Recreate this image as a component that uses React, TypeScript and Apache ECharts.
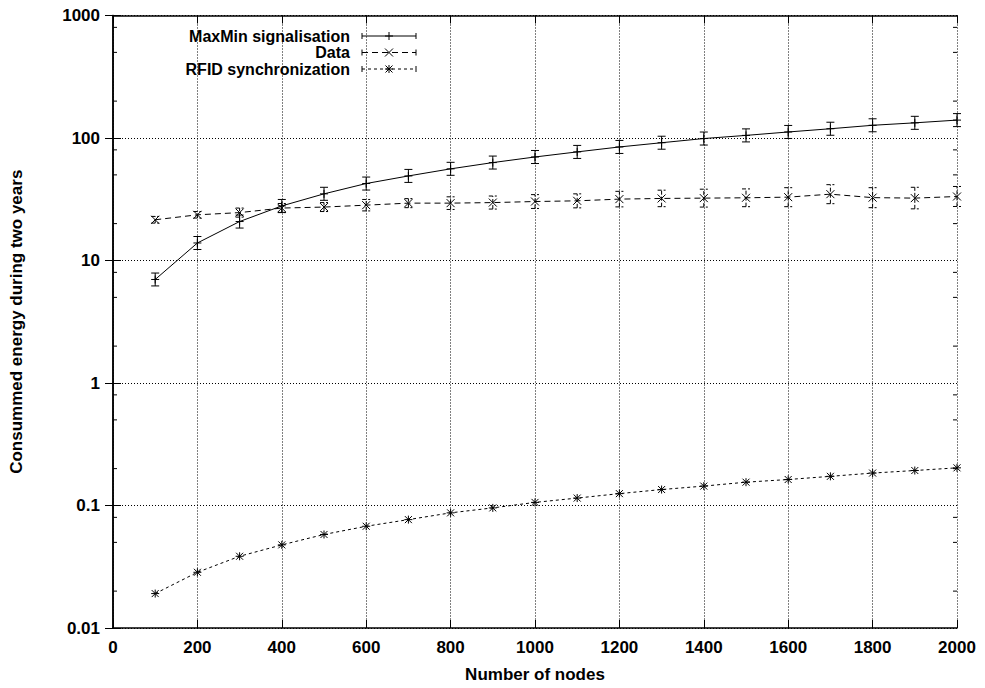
import React, { useEffect, useRef } from "react";
import * as echarts from "echarts";

const nodes = [100, 200, 300, 400, 500, 600, 700, 800, 900, 1000, 1100, 1200, 1300, 1400, 1500, 1600, 1700, 1800, 1900, 2000];

const maxMinEnergy = [7.0, 13.9, 20.8, 27.9, 35.0, 42.5, 49.0, 56.0, 63.0, 70.0, 77.0, 84.5, 91.5, 99.0, 105, 112, 119, 127, 133, 140];
const maxMinLow = [6.2, 12.3, 18.4, 24.7, 31.0, 37.6, 43.4, 49.6, 55.8, 61.9, 68.1, 74.8, 81.0, 87.6, 92.9, 99.1, 105.3, 112.4, 117.7, 123.9];
const maxMinHigh = [7.9, 15.7, 23.5, 31.5, 39.6, 48.0, 55.4, 63.3, 71.2, 79.1, 87.0, 95.5, 103.4, 111.9, 118.7, 126.6, 134.5, 143.5, 150.3, 158.2];

const dataEnergy = [21.5, 23.6, 24.6, 26.8, 27.3, 28.3, 29.4, 29.4, 29.7, 30.3, 30.7, 31.7, 32.1, 32.3, 32.5, 32.9, 34.8, 32.6, 32.3, 33.3];
const dataLow = [20.2, 22.2, 22.6, 24.6, 25.1, 25.4, 27.0, 26.1, 26.3, 26.6, 26.9, 27.4, 27.5, 27.3, 27.5, 27.5, 29.1, 27.0, 26.4, 27.6];
const dataHigh = [22.9, 25.1, 26.8, 29.2, 29.7, 31.5, 32.0, 33.1, 33.6, 34.5, 35.0, 36.7, 37.5, 38.2, 38.4, 39.3, 41.6, 39.3, 39.6, 40.2];

const rfidEnergy = [0.0191, 0.0285, 0.0385, 0.0477, 0.058, 0.0677, 0.0767, 0.0871, 0.0956, 0.106, 0.115, 0.125, 0.135, 0.144, 0.155, 0.163, 0.173, 0.184, 0.193, 0.203];

const seriesNames = ["MaxMin signalisation", "Data", "RFID synchronization"];
const yTickLabels = ["0.01", "0.1", "1", "10", "100", "1000"];
const yMinorTicks = [0.02, 0.05, 0.08, 0.2, 0.5, 0.8, 2, 5, 8, 20, 50, 80, 200, 500, 800];

const FONT = "'Liberation Sans', Arial, Helvetica, sans-serif";
const FS = 17;
const LEGEND_FS = 16;

type Marker = "plus" | "cross" | "star";

function markerShapes(cx: number, cy: number, m: Marker) {
  const r = 4;
  const d = 3.5;
  const st = { stroke: "#000", lineWidth: 1 };
  const out: any[] = [];
  if (m === "plus" || m === "star") {
    out.push({ type: "line", shape: { x1: cx - r, y1: cy, x2: cx + r, y2: cy }, style: st });
    out.push({ type: "line", shape: { x1: cx, y1: cy - r, x2: cx, y2: cy + r }, style: st });
  }
  if (m === "cross" || m === "star") {
    const q = m === "cross" ? r : d;
    out.push({ type: "line", shape: { x1: cx - q, y1: cy - q, x2: cx + q, y2: cy + q }, style: st });
    out.push({ type: "line", shape: { x1: cx - q, y1: cy + q, x2: cx + q, y2: cy - q }, style: st });
  }
  return out;
}

function makeRender(m: Marker, dash: number[] | null, withErr: boolean) {
  return (params: any, api: any) => {
    const x = api.value(0);
    const v = api.value(1);
    const c = api.coord([x, v]);
    const children: any[] = [];
    if (withErr) {
      const pl = api.coord([x, api.value(2)]);
      const ph = api.coord([x, api.value(3)]);
      const st: any = { stroke: "#000", lineWidth: 1 };
      if (dash) st.lineDash = dash;
      children.push({ type: "line", shape: { x1: c[0], y1: pl[1], x2: c[0], y2: ph[1] }, style: st });
      children.push({ type: "line", shape: { x1: c[0] - 4, y1: pl[1], x2: c[0] + 4, y2: pl[1] }, style: st });
      children.push({ type: "line", shape: { x1: c[0] - 4, y1: ph[1], x2: c[0] + 4, y2: ph[1] }, style: st });
    }
    children.push(...markerShapes(c[0], c[1], m));
    return { type: "group", children };
  };
}

function legendRow(y: number, name: string, m: Marker, dash: number[] | null) {
  const st: any = { stroke: "#000", lineWidth: 1 };
  if (dash) st.lineDash = dash;
  const x1 = 362;
  const x2 = 416;
  return [
    {
      type: "text",
      x: 350,
      y: y,
      style: {
        text: name,
        fill: "#000",
        font: `bold ${LEGEND_FS}px ${FONT}`,
        lineHeight: 16,
        textAlign: "right",
        textVerticalAlign: "middle",
      },
    },
    { type: "line", shape: { x1, y1: y, x2, y2: y }, style: st },
    { type: "line", shape: { x1, y1: y - 3, x2: x1, y2: y + 3 }, style: { stroke: "#000", lineWidth: 1 } },
    { type: "line", shape: { x1: x2, y1: y - 3, x2: x2, y2: y + 3 }, style: { stroke: "#000", lineWidth: 1 } },
    ...markerShapes((x1 + x2) / 2, y, m),
  ];
}

export default function App() {
  const ref = useRef<HTMLDivElement>(null);
  useEffect(() => {
    if (!ref.current) return;
    const chart = echarts.init(ref.current, null, { renderer: "svg" });
    const dash1 = [6, 4];
    const dash2 = [3, 3];
    const labelStyle = { color: "#000", fontWeight: "bold" as const, fontSize: FS, fontFamily: FONT };
    const axisLine = { show: true, lineStyle: { color: "#000", width: 1.5 } };
    const splitLine = { show: true, lineStyle: { color: "#000", width: 1, type: [1, 2] as any } };
    const option: any = {
      animation: false,
      backgroundColor: "#fff",
      grid: { left: 108, right: 28, top: 15.5, bottom: 60, containLabel: false },
      xAxis: [
        {
          type: "value",
          min: 0,
          max: 2000,
          interval: 200,
          position: "bottom",
          name: "Number of nodes",
          nameLocation: "middle",
          nameGap: 38,
          nameTextStyle: { ...labelStyle },
          axisLine,
          axisTick: { show: true, inside: true, length: 8, lineStyle: { color: "#000", width: 1 } },
          axisLabel: { ...labelStyle, margin: 11, formatter: (v: number) => String(v) },
          splitLine,
        },
        {
          type: "value",
          min: 0,
          max: 2000,
          interval: 200,
          position: "top",
          axisLine,
          axisTick: { show: true, inside: true, length: 8, lineStyle: { color: "#000", width: 1 } },
          axisLabel: { show: false },
          splitLine: { show: false },
        },
      ],
      yAxis: [
        {
          type: "log",
          logBase: 10,
          min: 0.01,
          max: 1000,
          position: "left",
          name: "Consummed energy during two years",
          nameLocation: "middle",
          nameGap: 88,
          nameTextStyle: { ...labelStyle },
          axisLine,
          axisTick: { show: true, inside: true, length: 8, lineStyle: { color: "#000", width: 1 } },
          axisLabel: {
            ...labelStyle,
            margin: 13,
            formatter: (v: number) => yTickLabels[Math.round(Math.log10(v)) + 2] ?? "",
          },
          splitLine,
        },
        {
          type: "log",
          logBase: 10,
          min: 0.01,
          max: 1000,
          position: "right",
          axisLine,
          axisTick: { show: true, inside: true, length: 8, lineStyle: { color: "#000", width: 1 } },
          axisLabel: { show: false },
          splitLine: { show: false },
        },
      ],
      graphic: [
        ...legendRow(36, seriesNames[0], "plus", null),
        ...legendRow(52.5, seriesNames[1], "cross", dash1),
        ...legendRow(69, seriesNames[2], "star", dash2),
      ],
      series: [
        {
          type: "custom",
          name: "minorTicks",
          silent: true,
          clip: false,
          data: yMinorTicks.map((v) => [0, v]),
          encode: { x: 0, y: 1 },
          renderItem: (params: any, api: any) => {
            const v = api.value(1);
            const l = api.coord([0, v]);
            const r = api.coord([2000, v]);
            const st = { stroke: "#000", lineWidth: 1 };
            return {
              type: "group",
              children: [
                { type: "line", shape: { x1: l[0], y1: l[1], x2: l[0] + 4, y2: l[1] }, style: st },
                { type: "line", shape: { x1: r[0] - 4, y1: r[1], x2: r[0], y2: r[1] }, style: st },
              ],
            };
          },
        },
        {
          type: "line",
          name: seriesNames[0],
          data: nodes.map((x, i) => [x, maxMinEnergy[i]]),
          showSymbol: false,
          lineStyle: { color: "#000", width: 1, type: "solid" },
        },
        {
          type: "custom",
          name: seriesNames[0] + " err",
          clip: false,
          data: nodes.map((x, i) => [x, maxMinEnergy[i], maxMinLow[i], maxMinHigh[i]]),
          encode: { x: 0, y: 1 },
          renderItem: makeRender("plus", null, true),
        },
        {
          type: "line",
          name: seriesNames[1],
          data: nodes.map((x, i) => [x, dataEnergy[i]]),
          showSymbol: false,
          lineStyle: { color: "#000", width: 1, type: dash1 },
        },
        {
          type: "custom",
          name: seriesNames[1] + " err",
          clip: false,
          data: nodes.map((x, i) => [x, dataEnergy[i], dataLow[i], dataHigh[i]]),
          encode: { x: 0, y: 1 },
          renderItem: makeRender("cross", [4, 2], true),
        },
        {
          type: "line",
          name: seriesNames[2],
          data: nodes.map((x, i) => [x, rfidEnergy[i]]),
          showSymbol: false,
          lineStyle: { color: "#000", width: 1, type: dash2 },
        },
        {
          type: "custom",
          name: seriesNames[2] + " pts",
          clip: false,
          data: nodes.map((x, i) => [x, rfidEnergy[i]]),
          encode: { x: 0, y: 1 },
          renderItem: makeRender("star", null, false),
        },
      ],
    };
    chart.setOption(option);
    return () => chart.dispose();
  }, []);
  return <div ref={ref} style={{ position: "absolute", left: 0, top: 0, width: 985, height: 688 }} />;
}
